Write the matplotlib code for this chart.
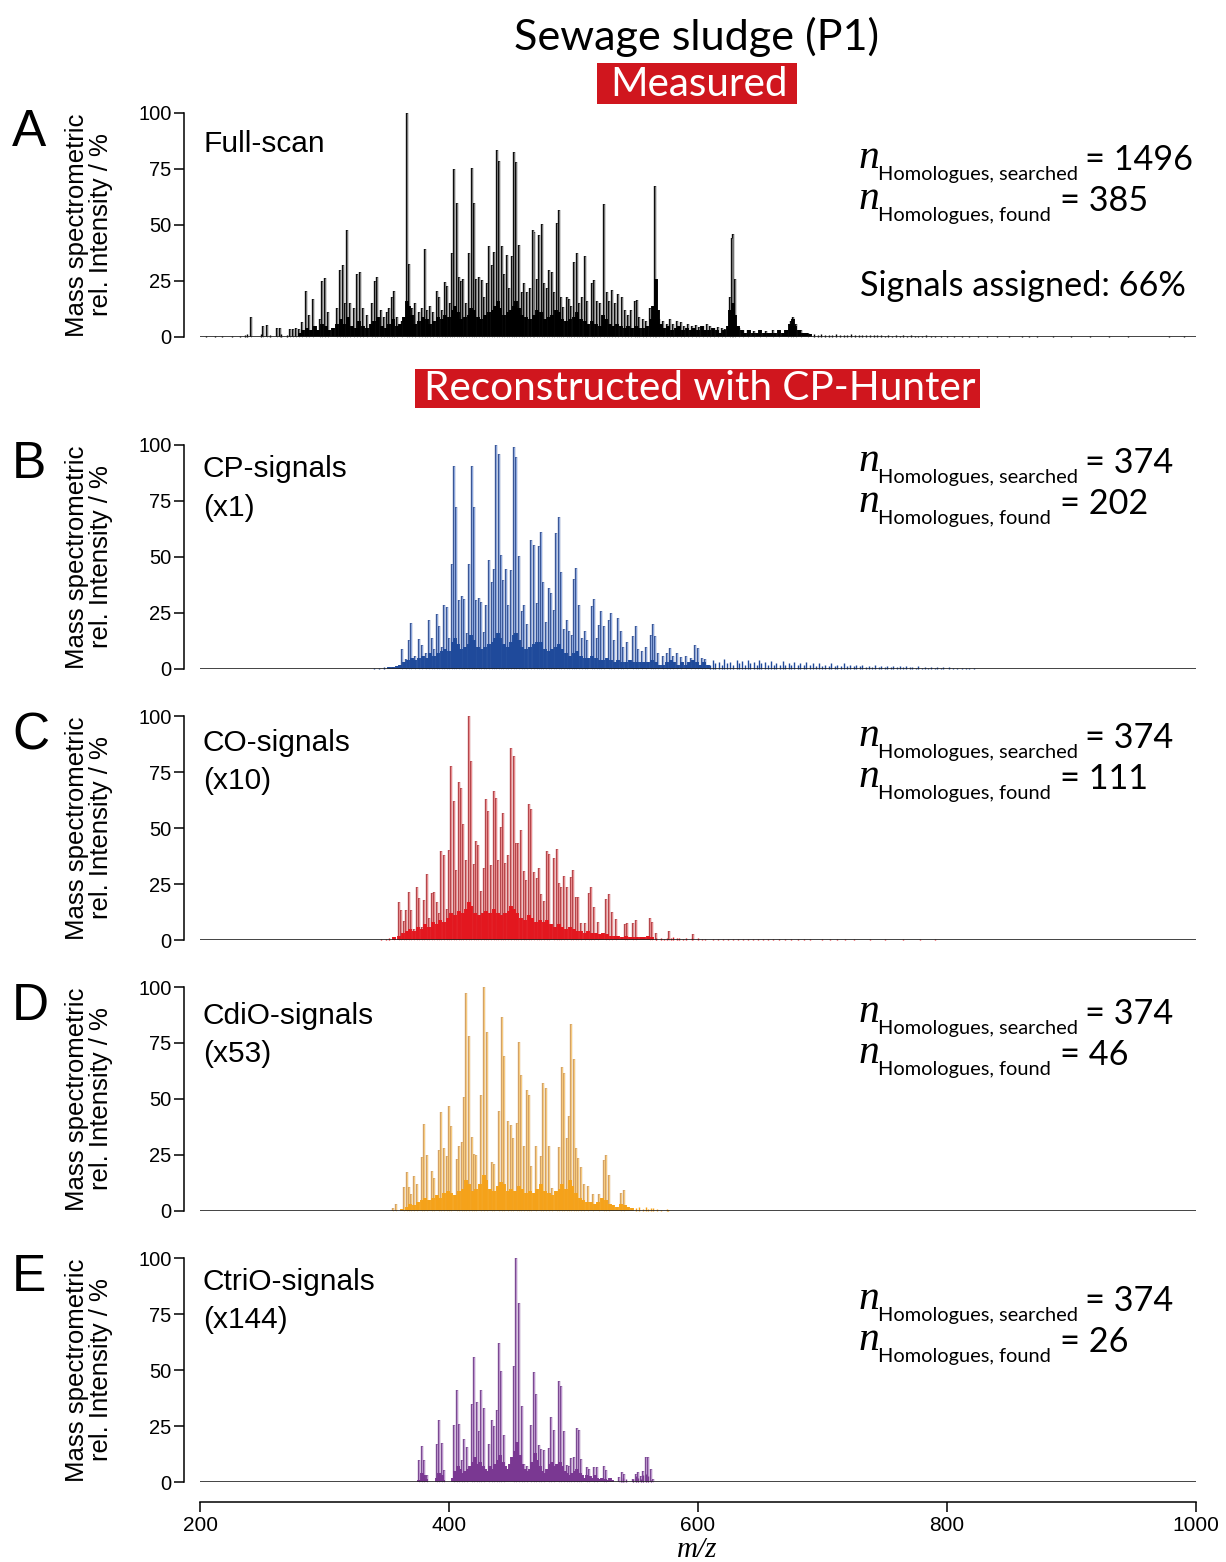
import matplotlib
matplotlib.use("Agg")
import matplotlib.pyplot as plt
from matplotlib.patches import Rectangle
from matplotlib import font_manager as fm

# ---------------------------------------------------------------- data
# (m/z, relative intensity %) of the prominent signals in each trace
full_scan_peaks = [
    (240.7, 9), (250.3, 4.8), (254.1, 5.5), (262.1, 4), (264.3, 4), (272, 3.5), (274.5, 3.7),
    (277, 3.8), (279.5, 3.5), (281.7, 6.5), (285.5, 20.5), (287.8, 10), (290.5, 17), (296, 8),
    (297.7, 25), (300.4, 26.3), (303, 11), (309.8, 13), (312.4, 30), (314.6, 32), (316.5, 15),
    (318.3, 47.8), (320.5, 15), (324, 13), (326.4, 28), (328.5, 29), (331, 13), (334, 10),
    (338, 15), (340.6, 25), (342.4, 27), (345, 12), (348, 9), (350, 11), (352, 13), (354.2, 17.7),
    (356.1, 20.4), (358.5, 9), (362, 7), (366.5, 100), (368, 32.5), (370, 13), (373, 15),
    (376, 11), (378.5, 13), (380.7, 39.4), (382.5, 12), (384.7, 13.7), (387, 11), (390.1, 20.4),
    (392, 18), (394.5, 12), (396.5, 24.4), (398.1, 22.9), (400.5, 15), (402.4, 37.7), (404, 75),
    (406.2, 60), (408.3, 27), (409.8, 25), (411, 25.9), (413.5, 15), (416.3, 37.7), (418.5, 75.3),
    (420.1, 60), (421.8, 26), (423.8, 27), (426.5, 25.3), (428.5, 18), (430.5, 24), (432.4, 40.7),
    (434.3, 32), (436.1, 38), (438.3, 83.5), (440.4, 78.6), (442.3, 40.7), (444.3, 28),
    (446.3, 36.7), (448.3, 22), (450.3, 36), (452.2, 82.5), (454.1, 78.3), (456.5, 41),
    (458.3, 20), (460.2, 24), (462.5, 20), (465, 22), (467.2, 47.8), (468.3, 46.8), (470.5, 26),
    (472.5, 45.6), (474.4, 50.5), (476.5, 24), (478.5, 22), (480.6, 30), (482.5, 29), (484.5, 20),
    (486.5, 50.8), (488.4, 56.5), (490, 18), (491.8, 13.4), (494.5, 17.8), (496.2, 17), (498, 14),
    (500.4, 33.7), (502.6, 37.4), (504.5, 15), (507, 18), (509.2, 36), (511, 16), (514.6, 24),
    (516.5, 25.5), (519, 16), (521.5, 15), (524.8, 59.3), (526.7, 20), (528.5, 16), (530.7, 20.8),
    (533, 15), (536, 19), (538.7, 18), (541, 12), (544, 10), (546.5, 12), (549.4, 16), (551, 16.3),
    (553, 9), (556, 8), (558, 7), (561.5, 13), (564, 10), (565.5, 67.5), (566.5, 25.5), (569, 8),
    (572, 7), (575, 6), (577.5, 8), (580, 6), (583, 7), (586, 6.5), (589, 5), (592, 6), (595, 5),
    (598, 5.5), (601, 4.5), (604, 5), (607, 6), (610, 5), (613, 4), (616, 4.5), (619, 4),
    (622, 3.5), (625.5, 18), (627, 44), (628.5, 46), (630, 26), (633, 4), (636, 3), (640, 3),
    (645, 2.5), (650, 3), (655, 2.5), (660, 3), (665, 2.5), (672, 3), (675, 7), (676.5, 9),
    (678.5, 6), (683, 3), (688, 2),
]
# dense low-level signal underneath the peaks
full_scan_base = [
    (280, 2), (283, 3), (286, 4), (289, 3), (292, 5), (295, 3),
    (298, 6), (301, 5), (304, 3), (307, 4), (310, 6), (313, 8), (316, 6), (319, 9), (322, 5),
    (325, 4), (328, 7), (331, 5), (334, 4), (337, 6), (340, 7), (343, 9), (346, 5), (349, 4),
    (352, 6), (355, 8), (358, 5), (361, 6), (364, 9), (366, 16), (368, 14), (370, 10), (373, 6),
    (376, 7), (379, 9), (382, 8), (385, 6), (388, 7), (391, 9), (394, 8), (397, 10), (400, 9),
    (403, 12), (405, 14), (407, 11), (410, 8), (413, 9), (416, 10), (418, 13), (420, 12),
    (423, 9), (426, 8), (429, 10), (432, 11), (435, 12), (437, 14), (439, 16), (441, 13),
    (444, 10), (447, 11), (450, 12), (452, 14), (454, 16), (456, 13), (459, 10), (462, 9),
    (465, 8), (468, 10), (471, 12), (474, 11), (477, 8), (480, 9), (483, 10), (486, 12),
    (488, 11), (491, 8), (494, 7), (497, 8), (500, 9), (503, 11), (506, 8), (509, 7), (512, 6),
    (515, 7), (518, 6), (521, 5), (524, 10), (526, 8), (529, 6), (532, 5), (535, 6), (538, 5),
    (541, 4), (544, 5), (547, 4), (550, 5), (553, 4), (556, 4), (559, 5), (562, 8), (564, 14),
    (566, 26), (568, 12), (570, 6), (573, 4), (576, 5), (579, 3), (582, 4), (585, 5), (588, 3),
    (591, 4), (594, 3), (597, 4), (600, 3), (603, 5), (606, 3), (609, 3), (612, 4), (615, 3),
    (618, 2), (621, 3), (624, 5), (626, 12), (628, 15), (630, 10), (632, 5), (635, 3), (638, 2),
    (641, 3), (644, 2), (647, 2), (650, 3), (653, 2), (656, 2), (659, 2), (662, 2), (665, 3),
    (668, 2), (671, 3), (674, 6), (676, 8), (678, 5), (681, 3), (684, 2), (687, 2), (690, 1.5),
]
# sparse small signals at the low and high ends of the range
full_scan_tail = [
    (205, 0.3), (212, 0.4), (218, 0.3), (226, 0.5), (232, 0.3), (236, 1), (238, 1.5), (249, 1.5),
    (256, 1), (265, 1.5), (270, 1),
    (693, 1.5), (696, 1), (699, 1.2), (702, 0.8), (705, 1), (708, 0.9), (711, 1.3), (714, 0.8),
    (717, 1), (720, 0.8), (723, 1.2), (726, 0.7), (729, 1), (732, 0.8), (735, 1.1), (738, 0.7),
    (741, 0.9), (744, 0.7), (747, 1), (750, 0.6), (753, 0.8), (756, 0.6), (759, 0.9), (762, 0.5),
    (765, 0.7), (768, 0.5), (771, 0.8), (774, 0.5), (777, 0.6), (780, 0.5), (783, 0.7),
    (787, 0.4), (790, 0.5), (795, 0.4), (800, 0.6), (806, 0.4), (812, 0.4), (818, 0.3),
    (825, 0.5), (832, 0.3), (840, 0.4), (850, 0.3), (860, 0.3), (866, 0.3), (872, 0.5),
    (885, 0.3), (900, 0.4), (915, 0.3), (930, 0.3), (945, 0.3), (965, 0.2), (978, 0.5),
    (990, 0.4),
]

cp_peaks = [
    (362, 8.9), (365.5, 4.5), (367.5, 12.8), (369.7, 20.5), (373, 6), (376, 13.4), (378, 10.8),
    (381.5, 7), (384.2, 21.7), (386, 13.8), (388, 9), (390.1, 24.7), (392, 19.3), (394, 10),
    (396, 28.7), (398, 27.5), (400, 14), (402.7, 47), (404, 90.6), (405.9, 72.5), (407.9, 31),
    (410.5, 32.4), (412.4, 31.2), (414.5, 16), (416.3, 47), (418.2, 90.6), (420.1, 72.2),
    (422, 31), (424, 31.6), (426.1, 30), (428, 16.5), (430, 28.7), (432.1, 48.7), (434.2, 39),
    (436.2, 44.6), (438, 100), (439.9, 96), (442, 51), (443.6, 39.8), (445.7, 44.6),
    (447.5, 28.7), (450.2, 44), (452, 99), (454.1, 94.8), (456, 50.5), (458.5, 25.7),
    (460.2, 28.7), (462.5, 20), (466.2, 57.7), (468.3, 55.4), (470.3, 29.4), (472.3, 54.7),
    (474.2, 61.2), (475.8, 39), (478, 21), (480.5, 36), (482, 33.9), (484.2, 26.4),
    (486.2, 60.6), (488.1, 67.8), (489.9, 43.5), (492, 18), (494.5, 22), (496.5, 17),
    (498.5, 15), (500.4, 40.3), (502.3, 45), (504.2, 28.7), (506.5, 14), (509, 17), (511, 13),
    (514.6, 28), (516.5, 31.2), (518.5, 14), (520.3, 19.8), (522.2, 26), (524.6, 19),
    (528.3, 22), (530.2, 25), (532.5, 13), (536, 22.7), (537.9, 16.8), (540, 10), (543, 12),
    (547.9, 14.6), (549.8, 19), (552, 9), (555, 8), (558, 10), (562.2, 15.3), (564.1, 20),
    (565.5, 14.6), (568, 7), (572, 6), (575, 7), (577.5, 9.4), (580, 6), (583, 7), (586, 5.5),
    (590, 6), (594, 5), (597.6, 10.8), (600.2, 9.4), (603, 5), (606, 4.5),
]
cp_base = [
    (352, 1), (355, 1), (358, 1.5), (361, 2), (364, 3), (367, 4),
    (370, 5), (373, 4), (376, 5), (379, 6), (382, 5), (385, 7), (388, 6), (391, 7), (394, 8),
    (397, 9), (400, 8), (403, 12), (405, 14), (407, 11), (410, 9), (413, 10), (416, 11),
    (418, 15), (420, 13), (423, 10), (426, 9), (429, 10), (432, 11), (435, 12), (437, 14),
    (439, 16), (441, 14), (444, 11), (447, 10), (450, 12), (452, 15), (454, 16), (456, 13),
    (459, 10), (462, 9), (465, 10), (468, 11), (471, 12), (474, 12), (477, 9), (480, 8),
    (483, 9), (486, 10), (488, 11), (491, 9), (494, 7), (497, 6), (500, 7), (503, 8), (506, 6),
    (509, 5), (512, 5), (515, 6), (518, 5), (521, 4), (524, 4), (527, 5), (530, 4), (533, 3),
    (536, 4), (539, 3), (542, 3), (545, 4), (548, 3), (551, 3), (554, 3), (557, 3), (560, 3),
    (563, 4), (566, 3), (569, 2), (572, 2), (575, 3), (578, 4), (581, 3), (584, 2), (587, 3),
    (590, 2), (593, 3), (596, 4), (599, 3), (602, 2), (605, 3), (608, 2),
]
cp_tail = [
    (340, 0.4), (344, 0.6), (348, 0.8),
    (610, 2), (612, 4), (614, 2.5), (617, 3), (619, 2), (621, 4.5), (623, 2.5), (626, 3),
    (628, 2), (631, 4), (633, 2.5), (635, 3.5), (638, 2), (640, 4), (642, 2.5), (645, 3),
    (647, 2), (649, 4), (651, 2.5), (654, 3), (656, 2), (659, 3.5), (661, 2), (663, 2.5),
    (666, 2), (668, 3.5), (670, 2), (673, 2.5), (675, 1.8), (677, 3), (680, 2), (682, 2.5),
    (685, 1.8), (687, 3), (690, 1.8), (692, 2.5), (695, 1.5), (697, 2.5), (700, 1.5), (702, 2),
    (705, 1.5), (707, 2.5), (710, 1.5), (712, 2), (715, 1.3), (717, 2.5), (720, 1.3), (722, 2),
    (725, 1.2), (727, 1.8), (730, 1.2), (732, 2), (735, 1), (737, 1.5), (740, 1), (742, 1.8),
    (745, 1), (747, 1.5), (750, 0.9), (752, 1.5), (755, 0.8), (757, 1.3), (760, 0.8),
    (762, 1.4), (765, 0.7), (767, 1.2), (770, 0.7), (772, 1.1), (775, 0.6), (777, 1.2),
    (780, 0.6), (782, 1), (785, 0.5), (787, 0.9), (790, 0.5), (792, 1), (795, 0.5), (797, 0.8),
    (802, 0.8), (805, 0.4), (808, 0.6), (812, 0.4), (815, 0.6), (818, 0.3), (822, 0.5),
]

co_peaks = [
    (356, 1.5), (359.6, 17), (361.5, 13.4), (364, 8.5), (365.5, 13.4), (367.9, 21.6),
    (369.8, 13.4), (372, 5), (374, 23.5), (375.9, 18.6), (378, 6), (380, 18), (382.1, 29.5),
    (384, 10), (386, 21), (388.3, 21.6), (390.2, 17), (392, 12), (393.9, 39.7), (395.8, 38),
    (398, 14), (400, 40.2), (401.9, 77.7), (403.7, 62), (405.7, 31.3), (407.9, 70.7),
    (409.5, 67.7), (411.6, 51.8), (413.5, 35.7), (416.1, 100), (418, 80), (419.9, 34),
    (421.7, 44.3), (423.6, 42.4), (425.8, 22), (427.8, 32.3), (429.7, 62.8), (431, 57.6),
    (433.7, 33.5), (435.9, 66.5), (438, 63.5), (439.6, 35.7), (441.8, 50.6), (443.7, 56.5),
    (445.3, 34.5), (447.7, 38), (449.8, 85.6), (452, 82.1), (454, 43.5), (455.6, 43.5),
    (458, 49), (459.9, 31), (461.5, 26.8), (464.2, 60.7), (466.1, 58.5), (468.5, 30.5),
    (470.4, 27.5), (472.3, 32.3), (474.2, 20.4), (476.3, 17.4), (478.7, 39.7), (480.6, 38.2),
    (484.4, 36.5), (486.5, 40.5), (488.4, 25.3), (490.3, 23.8), (492.4, 28.7), (494.6, 23.5),
    (498, 28), (499.9, 31.3), (501.8, 19.3), (503.4, 19.3), (506, 7.7), (509, 7.7),
    (512.7, 21.1), (514.3, 23.5), (516.2, 14.9), (520, 8), (526.4, 18.2), (528.3, 20.4),
    (530.7, 12.6), (534.4, 9.4), (541.4, 7), (543.3, 7.7), (548.1, 7.7), (550, 9),
    (561.4, 10), (562.8, 8), (566.3, 3), (576.7, 4.2), (596, 2.5),
]
co_base = [
    (356, 1.2), (360, 2), (363, 3), (366, 4), (369, 5), (372, 4),
    (375, 6), (378, 5), (381, 7), (384, 6), (387, 8), (390, 7), (393, 9), (396, 8), (399, 10),
    (402, 12), (405, 11), (408, 13), (411, 12), (414, 14), (416, 17), (418, 15), (421, 12),
    (424, 11), (427, 12), (430, 13), (433, 12), (436, 14), (439, 12), (442, 11), (445, 12),
    (448, 13), (450, 15), (452, 14), (455, 12), (458, 10), (461, 9), (464, 11), (467, 10),
    (470, 8), (473, 9), (476, 8), (479, 9), (482, 7), (485, 6), (488, 7), (491, 6), (494, 5),
    (497, 6), (500, 5), (503, 4), (506, 4), (509, 3), (512, 4), (515, 3), (518, 3), (521, 2.5),
    (524, 3), (527, 2.5), (530, 2), (533, 2), (536, 2), (539, 1.5), (542, 2), (545, 1.5),
    (548, 1.5), (551, 1.5), (554, 1.2), (557, 1.5), (560, 2), (563, 1.5),
]
co_tail = [
    (345, 0.5), (349, 0.4), (352, 0.8),
    (566, 1), (570, 0.8), (573, 0.6), (575, 1), (578, 0.8), (580, 1.5), (583, 0.7), (585, 1),
    (588, 0.6), (590, 0.8), (595, 0.7), (600, 0.8), (603, 0.5), (606, 0.6), (612, 0.6),
    (616, 0.4), (620, 0.5), (624, 0.4), (628, 0.5), (632, 0.4), (636, 0.5), (640, 0.4),
    (644, 0.4), (648, 0.3), (652, 0.5), (656, 0.3), (660, 0.4), (665, 0.3), (670, 0.4),
    (675, 0.3), (680, 0.4), (685, 0.3), (690, 0.3), (700, 0.4), (706, 0.3), (712, 0.3),
    (718, 0.3), (725, 0.3), (738, 0.3), (750, 0.4), (765, 0.3), (778, 0.3), (790, 0.5),
]

cdio_peaks = [
    (355.3, 1.5), (357.4, 3), (363.9, 10.8), (366, 17.4), (367.9, 10.8), (369.7, 7.7),
    (371.6, 15.6), (374, 12.2), (378, 24), (379.9, 38.9), (382.1, 24.8), (386.1, 17.8),
    (388.2, 14.8), (391.7, 27.4), (393.8, 44.1), (396, 28.2), (398.1, 24.5), (400, 47),
    (401.9, 37.8), (406.2, 23.3), (407.8, 29), (410.4, 31), (412, 50.7), (413.9, 97.2),
    (415.8, 78), (418.2, 33), (420.1, 25.5), (421.9, 24.8), (426, 52), (428.1, 100),
    (430.3, 79.8), (434.3, 21.8), (436.1, 21), (440.4, 44.8), (442.3, 86.4), (443.9, 69),
    (447.7, 40), (449.8, 38.6), (451.7, 32.6), (454.6, 39.3), (456.5, 75.4), (458.1, 60.5),
    (460.2, 29), (462.4, 53.9), (464.3, 51.6), (466.1, 20), (469.9, 29.2), (473.9, 24.5),
    (475.8, 57), (477.7, 55), (480.6, 29), (482.5, 10.4), (486.5, 8.2), (488.6, 28.5),
    (490.5, 64.2), (492.4, 61.6), (494.5, 32.6), (496.4, 42.6), (498.3, 83.4), (500.1, 68),
    (502, 28), (503.9, 23.7), (505.8, 19.6), (508.7, 11.9), (511.9, 11), (516, 7.4),
    (520.2, 7.4), (524.8, 22.6), (526.4, 25), (528.3, 16), (538.2, 8.2), (540.3, 9.3),
]
cdio_base = [
    (362, 1), (366, 2), (369, 3), (372, 2.5), (375, 4), (378, 5), (381, 6), (384, 5), (387, 6),
    (390, 7), (393, 6), (396, 8), (399, 9), (402, 8), (405, 7), (408, 9), (411, 10), (414, 14),
    (416, 12), (419, 9), (422, 10), (425, 12), (428, 16), (430, 14), (433, 10), (436, 9),
    (439, 11), (442, 13), (444, 12), (447, 9), (450, 10), (453, 9), (456, 11), (459, 10),
    (462, 8), (465, 9), (468, 8), (471, 10), (474, 12), (477, 9), (480, 8), (483, 7), (486, 9),
    (489, 10), (491, 12), (494, 10), (497, 14), (499, 11), (502, 8), (505, 6), (508, 5),
    (511, 4), (514, 4), (517, 3), (520, 4), (523, 6), (526, 5), (529, 3), (532, 2.5), (535, 2),
    (538, 3), (541, 2.5), (544, 2), (547, 1.5),
]
cdio_tail = [
    (550, 1.2), (553, 1.8), (556, 1), (558, 1.8), (560, 0.8), (562, 1.2), (564, 1.5),
    (567, 0.8), (570, 0.5), (574.8, 1), (576, 0.6),
]

ctrio_peaks = [
    (376.2, 10), (378.1, 15.9), (379.9, 10), (382.1, 3), (390.4, 17), (392.2, 27.5),
    (394.1, 17.4), (396, 5.5), (404, 25.3), (406.2, 40.9), (407.8, 26), (410.2, 10), (412, 19.3),
    (414.2, 15.5), (418.5, 34.8), (420.3, 56), (422.2, 35.7), (424.1, 22.9), (425.9, 41.2),
    (428.1, 33), (432.4, 17), (434.5, 27.8), (436.4, 25), (438.3, 32), (440.2, 62),
    (442, 49.6), (443.9, 21), (452, 52), (453.8, 100), (456, 80.1), (458.4, 34), (460.2, 8),
    (462.4, 7), (466.1, 25.3), (468, 49), (470.1, 39.2), (472.5, 16.3), (474.1, 14.7),
    (476.1, 14.4), (480.3, 15.2), (481.9, 29), (484.1, 23), (488.4, 45.3), (490.2, 43),
    (492.1, 22.9), (494.5, 7.7), (496.4, 7.3), (498, 10.7), (500.1, 11), (502.6, 24),
    (504.4, 23.3), (506.3, 10.3), (510.6, 6.7), (512.4, 5.8), (516.5, 6.7), (518.6, 6.7),
    (524.2, 7), (526.1, 5.5), (536.8, 2.2), (538.7, 4.3), (540.6, 3.7), (548, 1.3),
    (550.2, 3.7), (552, 4.3), (554, 2.5), (556.1, 5), (558.2, 11.1), (560.1, 11), (562, 5.8),
    (564.1, 1.3),
]
ctrio_base = [
    (376, 1), (378, 4), (380, 3), (381.5, 1.5), (390, 2), (392, 4), (394, 3), (395.5, 1),
    (403, 2), (405, 5), (407, 7), (409, 6), (411, 4), (413, 5), (415, 6), (417, 7), (419, 9),
    (421, 11), (423, 8), (425, 9), (427, 7), (429, 6), (431, 5), (433, 7), (435, 6), (437, 8),
    (439, 10), (441, 12), (443, 9), (445, 7), (447, 6), (449, 8), (451, 11), (453, 14),
    (455, 18), (457, 12), (459, 8), (461, 6), (463, 5), (465, 6), (467, 9), (469, 13), (471, 10),
    (473, 7), (475, 5), (477, 4), (479, 6), (481, 8), (483, 9), (485, 7), (487, 8), (489, 9),
    (491, 7), (493, 5), (495, 4), (497, 3), (499, 4), (501, 5), (503, 6), (505, 4), (507, 3),
    (509, 2), (511, 3), (513, 2.5), (515, 2), (517, 3), (519, 2), (521, 1.5), (523, 2),
    (525, 1.5), (527, 1), (529, 2), (531, 1),
]
ctrio_tail = [
    (538, 1), (540, 2), (542, 1.5), (548, 1.5), (550, 2.5), (552, 2), (554, 1.5), (556, 3),
    (558, 3.5), (560, 2.5), (562, 1),
]

panel_letters = ["A", "B", "C", "D", "E"]
trace_labels = [["Full-scan"], ["CP-signals", "(x1)"], ["CO-signals", "(x10)"],
                ["CdiO-signals", "(x53)"], ["CtriO-signals", "(x144)"]]
n_searched = ["1496", "374", "374", "374", "374"]
n_found = ["385", "202", "111", "46", "26"]
y_ticks = [0, 25, 50, 75, 100]
x_ticks = [200, 400, 600, 800, 1000]

# ---------------------------------------------------------------- layout helpers
W, H = 1226, 1562
fig = plt.figure(figsize=(W / 100, H / 100), dpi=100)
renderer = fig.canvas.get_renderer()


def fx(x):
    return x / W


def fy(y):
    return 1 - y / H


def pick(*names):
    for n in names:
        try:
            fm.findfont(fm.FontProperties(family=n), fallback_to_default=False)
            return n
        except Exception:
            continue
    return "DejaVu Sans"


ARIAL = pick("Liberation Sans", "Arial", "DejaVu Sans")
HUMAN = pick("Lato", "Open Sans", "Noto Sans", "DejaVu Sans")
SERIF = pick("Liberation Serif", "DejaVu Serif")


def fitted_size(s, width_px, family, **kw):
    t = fig.text(0, 0, s, family=family, fontsize=20, **kw)
    w = t.get_window_extent(renderer).width
    t.remove()
    return 20 * width_px / w


def ftext(x, ybase, s, **kw):
    kw.setdefault("va", "baseline")
    kw.setdefault("ha", "left")
    return fig.text(fx(x), fy(ybase), s, **kw)


RED = "#d0161e"

# ---------------------------------------------------------------- headers
title_fs = fitted_size("Sewage sludge (P1)", 365, HUMAN)
ftext(697, 50, "Sewage sludge (P1)", family=HUMAN, fontsize=title_fs, ha="center")

for (x0, x1, y0, y1, s, tx0, tx1, base) in [
        (597, 797, 63, 104, "Measured", 610, 788, 96),
        (415, 980, 369, 408, "Reconstructed with CP-Hunter", 423, 977, 400)]:
    fig.patches.append(Rectangle((fx(x0), fy(y1)), (x1 - x0) / W, (y1 - y0) / H,
                                 transform=fig.transFigure, facecolor=RED,
                                 edgecolor="none", zorder=0))
    fs = fitted_size(s, tx1 - tx0, HUMAN)
    ftext((tx0 + tx1) / 2, base, s, family=HUMAN, fontsize=fs, color="white", ha="center")

big_fs = fitted_size("Signals assigned: 66%", 327, HUMAN)
sub_fs = fitted_size("Homologues, searched", 200, HUMAN)

# ---------------------------------------------------------------- panels
# (axis top px, peaks, base, tail, bar edge colour, bar face colour, base colour)
panels = [
    (113, full_scan_peaks, full_scan_base, full_scan_tail, "#0d0d0d", "#8a8a8a", "#000000"),
    (445, cp_peaks, cp_base, cp_tail, "#3b5796", "#9bb6ea", "#1f4a9b"),
    (716, co_peaks, co_base, co_tail, "#b4474c", "#f39a9b", "#e3171f"),
    (987, cdio_peaks, cdio_base, cdio_tail, "#d3a266", "#fdd383", "#f5a21a"),
    (1258, ctrio_peaks, ctrio_base, ctrio_tail, "#7b4a92", "#c8a2d8", "#7a3892"),
]
text_offsets = [0, 303, 578, 854, 1141]
label_baselines = [[152], [477, 516], [751, 789], [1024, 1062], [1290, 1328]]

for i, (top, peaks, base, tail, c_edge, c_face, c_base) in enumerate(panels):
    bottom = top + 224
    ax = fig.add_axes([fx(200), fy(bottom), fx(1196) - fx(200), 224 / H])
    ax.set_xlim(200, 1000)
    ax.set_ylim(0, 100)
    ax.patch.set_visible(False)

    # outlined bars: a dark wide stroke with a lighter core
    mz, inten = zip(*peaks)
    ax.vlines(mz, 0, inten, color=c_edge, lw=1.7, clip_on=False, zorder=2)
    ax.vlines(mz, 0, inten, color=c_face, lw=0.6, clip_on=False, zorder=2.1)
    # dense low-level fill
    bmz, bint = zip(*base)
    ax.vlines(bmz, 0, bint, color=c_base, lw=2.8, clip_on=False, zorder=2.2)
    tmz, tint = zip(*tail)
    ax.vlines(tmz, 0, tint, color=c_base, lw=1.0, clip_on=False, zorder=2.2)
    ax.axhline(0, color="#222222", lw=1.2, zorder=3)

    for side in ("top", "right", "bottom"):
        ax.spines[side].set_visible(False)
    ax.spines["left"].set_position(("outward", 11.5))
    ax.spines["left"].set_bounds(0, 100)
    ax.spines["left"].set_linewidth(1.1)
    ax.set_xticks([])
    ax.set_yticks(y_ticks)
    ax.tick_params(axis="y", direction="out", length=7, width=1.1, pad=2,
                   labelsize=14.5, labelfontfamily=ARIAL)

    # y-axis title
    fig.text(fx(89), fy(top + 112), "Mass spectrometric\nrel. Intensity / %",
             rotation=90, ha="center", va="center", family=ARIAL, fontsize=18.5,
             linespacing=1.05, multialignment="center")
    # panel letter
    ftext(12, top + 33, panel_letters[i], family=ARIAL, fontsize=37)
    # trace label
    for s, yb in zip(trace_labels[i], label_baselines[i]):
        ftext(203, yb, s, family=ARIAL, fontsize=21.5)

    # homologue counts
    off = text_offsets[i]
    for (yb, sub, eqx, val) in [(170 + off, "Homologues, searched", 1085, n_searched[i]),
                                (211 + off, "Homologues, found", 1060, n_found[i])]:
        ftext(859, yb - 2, "n", family=SERIF, style="italic", fontsize=30)
        ftext(878, yb + 10, sub, family=HUMAN, fontsize=sub_fs)
        ftext(eqx, yb, "= " + val, family=HUMAN, fontsize=big_fs)
    if i == 0:
        ftext(860, 296, "Signals assigned: 66%", family=HUMAN, fontsize=big_fs)

# ---------------------------------------------------------------- shared m/z axis
axx = fig.add_axes([fx(200), fy(1502), fx(1196) - fx(200), 0.0005])
axx.set_xlim(200, 1000)
axx.patch.set_visible(False)
for side in ("top", "right", "left"):
    axx.spines[side].set_visible(False)
axx.spines["bottom"].set_linewidth(1.1)
axx.set_yticks([])
axx.set_xticks(x_ticks)
axx.tick_params(axis="x", direction="out", length=7, width=1.1, pad=3,
                labelsize=15, labelfontfamily=ARIAL)
ftext(697, 1557, "m/z", family=SERIF, style="italic", fontsize=21, ha="center")

fig.savefig("out.png", dpi=100)
